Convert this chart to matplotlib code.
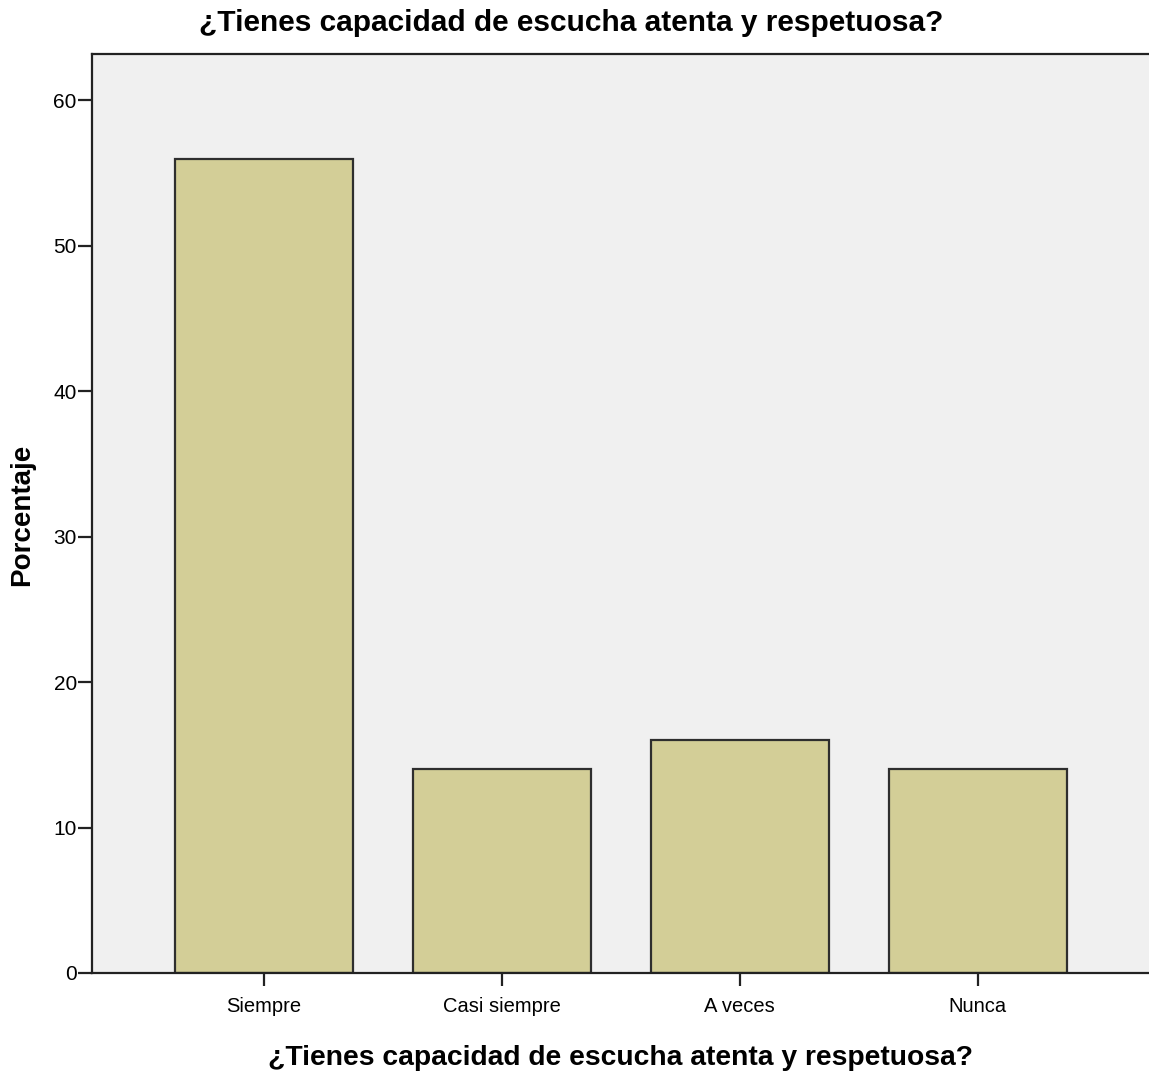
import numpy as np
import matplotlib.pyplot as plt

categorias = ['Siempre', 'Casi siempre', 'A veces', 'Nunca']
porcentaje = [56, 14, 16, 14]
yticks = [0, 10, 20, 30, 40, 50, 60]
titulo = '¿Tienes capacidad de escucha atenta y respetuosa?'

fam = ['Liberation Sans', 'DejaVu Sans']

fig = plt.figure(figsize=(11.49, 10.77), dpi=100)
ax = fig.add_axes([0.0801, 0.0966, 0.9199, 0.8534])
ax.set_facecolor('#f0f0f0')

x = np.arange(len(categorias))
ax.bar(x, porcentaje, width=0.75, color='#d3ce97', edgecolor='#2e2e2e', linewidth=1.6)

ax.set_xlim(-0.723, 3.72)
ax.set_ylim(0, 63.2)
ax.set_yticks(yticks)
ax.set_yticklabels([str(t) for t in yticks], family=fam, fontsize=15)
ax.set_xticks(x)
ax.set_xticklabels(categorias, family=fam, fontsize=14.5)
ax.tick_params(axis='y', length=10, width=1.6, pad=1, color='#222222')
ax.tick_params(axis='x', length=9, width=1.6, pad=8, color='#222222')

for s in ['left', 'top', 'bottom']:
    ax.spines[s].set_linewidth(1.6)
    ax.spines[s].set_color('#222222')
ax.spines['right'].set_visible(False)

fig.text(0.497, 0.979, titulo, ha='center', va='center', family=fam,
         fontsize=21.5, fontweight='bold')
fig.text(0.54, 0.018, titulo, ha='center', va='center', family=fam,
         fontsize=20.3, fontweight='bold')
fig.text(0.019, 0.522, 'Porcentaje', rotation=90, ha='center', va='center',
         family=fam, fontsize=20, fontweight='bold')

fig.savefig('out.png', dpi=100)
